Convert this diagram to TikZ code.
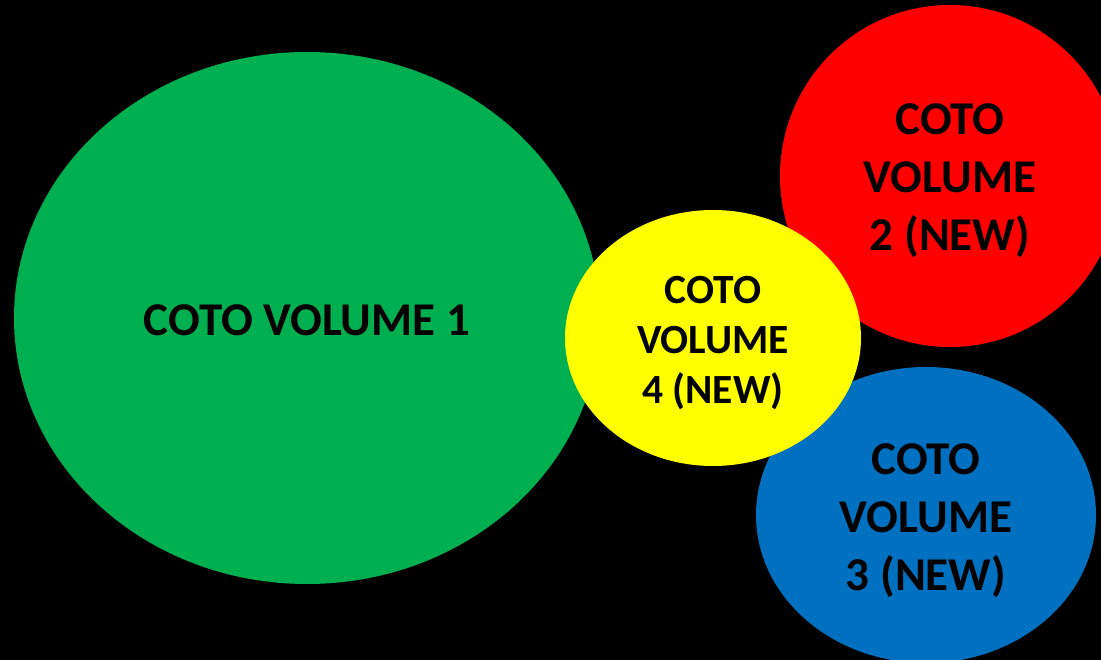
\documentclass[tikz,border=0pt]{standalone}
\usepackage{fontspec}
\setmainfont{Carlito}
\usetikzlibrary{shapes.geometric}

\begin{document}
\begin{tikzpicture}[
        x=1pt, y=-1pt,
        every node/.style={
            ellipse, inner sep=0pt, align=center, text=black,
            font=\bfseries
        },
        bigtext/.style={font=\bfseries\fontsize{47}{58}\selectfont},
        smalltext/.style={font=\bfseries\fontsize{41.5}{50}\selectfont}
    ]
    \fill[black] (0,0) rectangle (1101,660);
    \clip (0,0) rectangle (1101,660);
    % the four volumes
    \node[bigtext, fill={rgb,255:red,0;green,176;blue,80},
          minimum width=586pt, minimum height=532pt] (vol1) at (307,318) {};
    \node[bigtext] (lab1) at (307,320) {COTO VOLUME 1};
    \node[bigtext, fill={rgb,255:red,255;green,0;blue,0},
          minimum width=340pt, minimum height=342pt] (vol2) at (950,176) {};
    \node[bigtext] (lab2) at (950,181) {COTO\\VOLUME\\2 (NEW)};
    \node[bigtext, fill={rgb,255:red,0;green,112;blue,192},
          minimum width=340pt, minimum height=296pt] (vol3) at (926,515) {};
    \node[bigtext] (lab3) at (926,521) {COTO\\VOLUME\\3 (NEW)};
    \node[smalltext, fill={rgb,255:red,255;green,255;blue,0},
          minimum width=296pt, minimum height=256pt] (vol4) at (713,338) {};
    \node[smalltext] (lab4) at (713,343) {COTO\\VOLUME\\4 (NEW)};
\end{tikzpicture}
\end{document}
